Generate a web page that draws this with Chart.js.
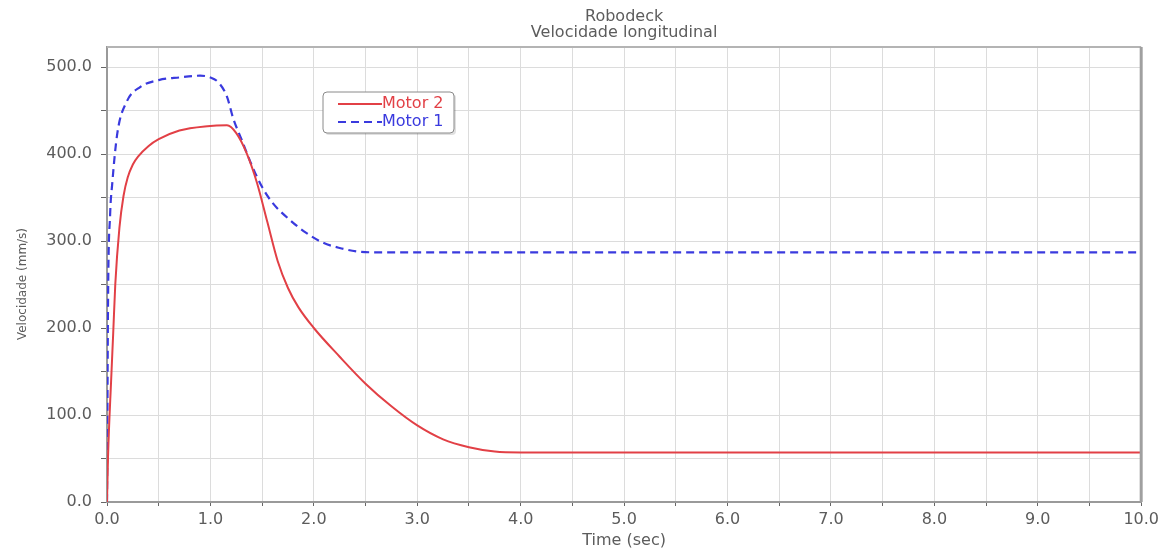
<!DOCTYPE html>
<html>
<head>
<meta charset="utf-8">
<title>Robodeck - Velocidade longitudinal</title>
<script src="https://cdn.jsdelivr.net/npm/chart.js@4/dist/chart.umd.min.js"></script>
<style>
    html, body { margin: 0; padding: 0; background: #ffffff; }
    #wrap { width: 1163px; height: 552px; }
</style>
</head>
<body>
<div id="wrap"><canvas id="chart" width="1163" height="552"></canvas></div>
<script>
// Chart data (time in sec, velocity in mm/s)
var motor1Time = [0, 0.01, 0.03, 0.05, 0.1, 0.19, 0.32, 0.5, 0.7, 0.9, 1.0, 1.08, 1.16, 1.22, 1.3, 1.4, 1.5, 1.6, 1.77, 1.93, 2.09, 2.25, 2.42, 2.6, 10];
var motor1Vel = [0, 230, 330, 365, 424, 460, 477, 485, 488, 490, 488, 482, 466, 441, 417, 387, 362, 344, 324, 309, 298, 292, 288, 287, 287];

var motor2Time = [0, 0.01, 0.04, 0.06, 0.08, 0.12, 0.16, 0.2, 0.25, 0.3, 0.4, 0.5, 0.7, 0.97, 1.16, 1.25, 1.35, 1.45, 1.55, 1.65, 1.75, 1.85, 2.0, 2.25, 2.5, 2.75, 3.0, 3.25, 3.5, 3.75, 4.0, 10];
var motor2Vel = [0, 52, 140, 194, 250, 315, 352, 373, 388, 397, 409, 417, 427, 432, 433, 424, 401, 367, 322, 277, 246, 224, 200, 167, 136, 110, 88, 72, 63, 58, 57, 57];

var seriesLabels = ['Motor 2', 'Motor 1'];
var titleLines = ['Robodeck', 'Velocidade longitudinal'];
var xTitle = 'Time (sec)';
var yTitle = 'Velocidade (mm/s)';

// Helpers
function toPoints(xs, ys) {
    var pts = [];
    for (var i = 0; i < xs.length; i++) {
        pts.push({ x: xs[i], y: ys[i] });
    }
    return pts;
}

var FONT = '"DejaVu Sans", Verdana, sans-serif';
var TEXT_COLOR = '#5c5c5c';

// Draws title, axis titles, frame and legend box
var decorPlugin = {
    id: 'decor',
    afterDraw: function (chart) {
        var ctx = chart.ctx;
        var area = chart.chartArea;
        ctx.save();

        // Frame (top and right edges)
        ctx.strokeStyle = '#b4b4b4';
        ctx.lineWidth = 2;
        ctx.beginPath();
        ctx.moveTo(area.left, area.top);
        ctx.lineTo(area.right, area.top);
        ctx.stroke();
        ctx.strokeStyle = '#a0a0a0';
        ctx.lineWidth = 3;
        ctx.beginPath();
        ctx.moveTo(area.right, area.top);
        ctx.lineTo(area.right, area.bottom);
        ctx.stroke();

        // Title
        ctx.fillStyle = TEXT_COLOR;
        ctx.font = '16px ' + FONT;
        ctx.textAlign = 'center';
        ctx.textBaseline = 'middle';
        var cx = (area.left + area.right) / 2;
        ctx.fillText(titleLines[0], cx, 17);
        ctx.fillText(titleLines[1], cx, 33);

        // Axis titles
        ctx.fillText(xTitle, cx, 541);
        ctx.save();
        ctx.font = '12px ' + FONT;
        ctx.translate(23, 284);
        ctx.rotate(-Math.PI / 2);
        ctx.fillText(yTitle, 0, 0);
        ctx.restore();

        // Legend box
        var bx = 323, by = 92, bw = 131, bh = 41;
        ctx.fillStyle = 'rgba(0,0,0,0.12)';
        ctx.beginPath();
        ctx.roundRect(bx + 2, by + 2, bw, bh, 4);
        ctx.fill();
        ctx.fillStyle = '#ffffff';
        ctx.strokeStyle = '#8a8a8a';
        ctx.lineWidth = 1;
        ctx.beginPath();
        ctx.roundRect(bx, by, bw, bh, 4);
        ctx.fill();
        ctx.stroke();

        var rows = [104, 122];
        ctx.font = '16px ' + FONT;
        chart.data.datasets.forEach(function (ds, i) {
            var y = rows[i];
            ctx.strokeStyle = ds.borderColor;
            ctx.lineWidth = 2;
            ctx.setLineDash(ds.borderDash || []);
            ctx.beginPath();
            ctx.moveTo(338, y);
            ctx.lineTo(382, y);
            ctx.stroke();
            ctx.setLineDash([]);
            ctx.fillStyle = ds.borderColor;
            ctx.textAlign = 'left';
            ctx.fillText(ds.label, 382, y);
        });

        ctx.restore();
    }
};

var chartCtx = document.getElementById('chart').getContext('2d');
var chart = new Chart(chartCtx, {
    type: 'line',
    data: {
        datasets: [{
            label: seriesLabels[0],
            data: toPoints(motor2Time, motor2Vel),
            borderColor: 'rgb(226, 64, 70)',
            borderWidth: 2,
            pointRadius: 0,
            cubicInterpolationMode: 'monotone',
            fill: false
        }, {
            label: seriesLabels[1],
            data: toPoints(motor1Time, motor1Vel),
            borderColor: 'rgb(58, 58, 222)',
            borderWidth: 2.2,
            borderDash: [8, 5],
            pointRadius: 0,
            cubicInterpolationMode: 'monotone',
            fill: false
        }]
    },
    options: {
        responsive: false,
        animation: false,
        devicePixelRatio: 1,
        layout: {
            padding: { top: 47, right: 21, left: 0, bottom: 0 }
        },
        plugins: {
            legend: { display: false },
            title: { display: false },
            tooltip: { enabled: false }
        },
        scales: {
            x: {
                type: 'linear',
                min: 0,
                max: 10,
                afterFit: function (scale) { scale.height = 50; },
                grid: {
                    color: '#dcdcdc',
                    tickColor: '#666666',
                    tickLength: 4,
                    lineWidth: 1
                },
                border: { color: '#9a9a9a', width: 2 },
                ticks: {
                    stepSize: 0.5,
                    autoSkip: false,
                    maxRotation: 0,
                    color: TEXT_COLOR,
                    font: { family: FONT, size: 16 },
                    padding: 4,
                    callback: function (value) {
                        return Math.abs(value - Math.round(value)) < 1e-6 ? value.toFixed(1) : '';
                    }
                }
            },
            y: {
                type: 'linear',
                min: 0,
                max: 523,
                afterFit: function (scale) { scale.width = 107; },
                grid: {
                    color: '#dcdcdc',
                    tickColor: '#666666',
                    tickLength: 6,
                    lineWidth: 1
                },
                border: { color: '#9a9a9a', width: 2 },
                ticks: {
                    stepSize: 50,
                    includeBounds: false,
                    autoSkip: false,
                    color: TEXT_COLOR,
                    font: { family: FONT, size: 16 },
                    padding: 9,
                    callback: function (value) {
                        return value % 100 === 0 ? value.toFixed(1) : '';
                    }
                }
            }
        }
    },
    plugins: [decorPlugin]
});
</script>
</body>
</html>
